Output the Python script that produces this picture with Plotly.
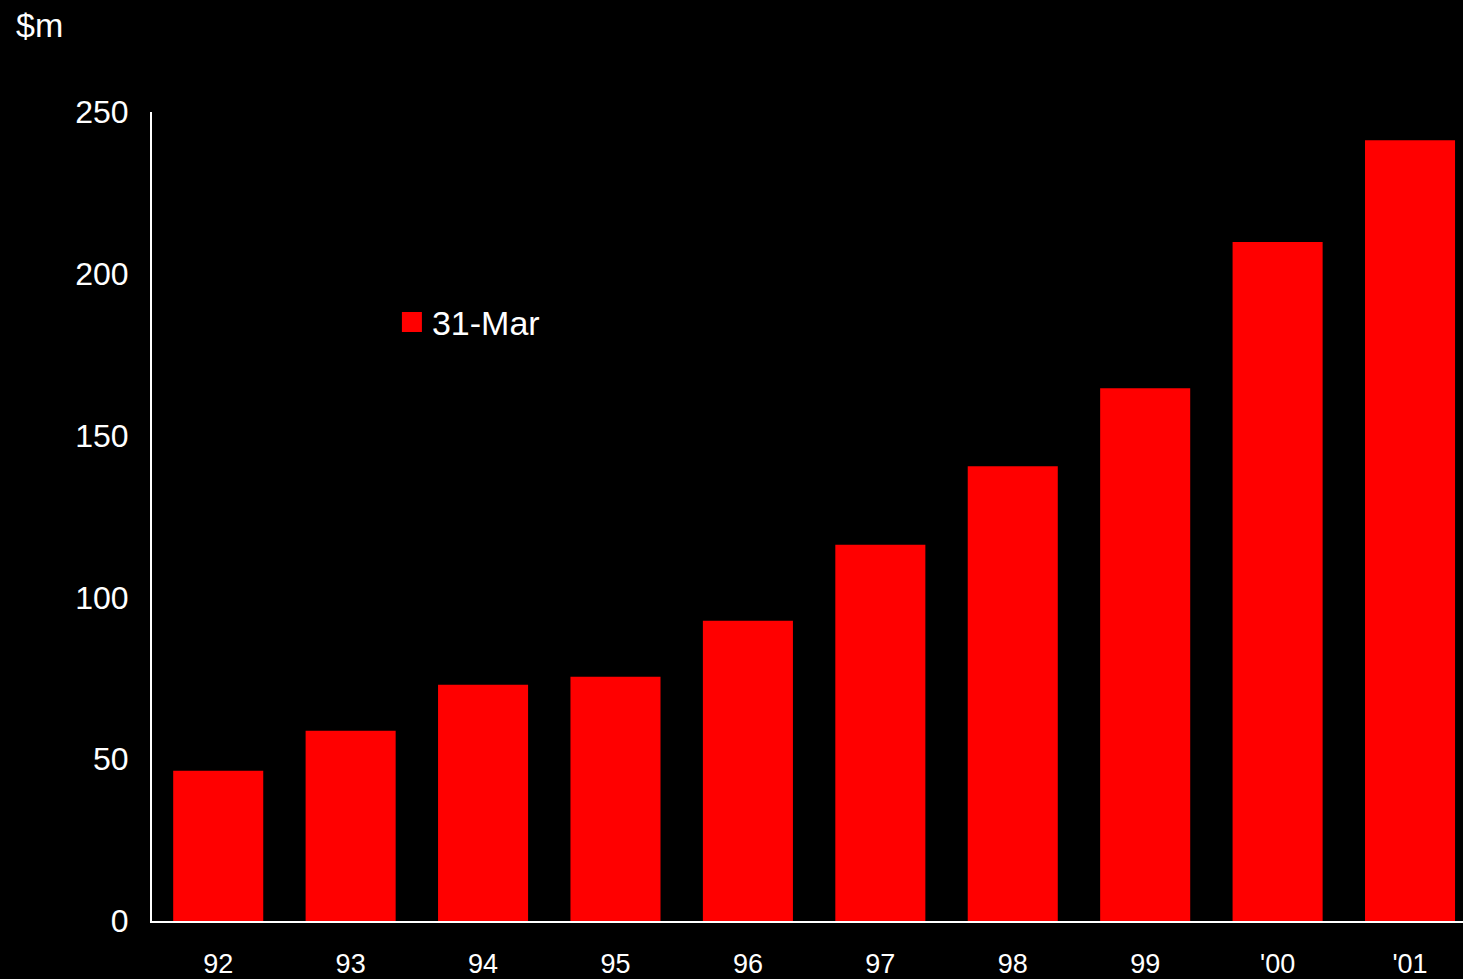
import plotly.graph_objects as go

categories = ["92", "93", "94", "95", "96", "97", "98", "99", "'00", "'01"]
values = [46.4, 58.8, 73.0, 75.5, 92.8, 116.3, 140.5, 164.6, 209.8, 241.3]
series_name = "31-Mar"
y_ticks = [0, 50, 100, 150, 200, 250]

bar_color = "#FF0000"
font_family = "Liberation Sans, Arial, sans-serif"

fig = go.Figure()
fig.add_trace(go.Bar(
    x=list(range(len(categories))),
    y=values,
    name=series_name,
    legendgroup="s",
    marker=dict(color=bar_color, line=dict(width=0)),
    showlegend=False,
))
# legend entry with a larger square swatch
fig.add_trace(go.Scatter(
    x=[None], y=[None],
    mode="markers",
    name=series_name,
    legendgroup="s",
    marker=dict(symbol="square", size=16, color=bar_color,
                line=dict(color=bar_color, width=4)),
    showlegend=True,
))

fig.update_layout(
    width=1463,
    height=979,
    paper_bgcolor="black",
    plot_bgcolor="black",
    margin=dict(l=152, r=0, t=112, b=58, pad=0, autoexpand=False),
    bargap=0.32,
    font=dict(family=font_family, color="white", size=28),
    showlegend=True,
    legend=dict(
        x=0.183, y=0.74, xanchor="left", yanchor="middle",
        bgcolor="rgba(0,0,0,0)",
        font=dict(size=34, color="white", family=font_family),
        itemwidth=30,
    ),
    xaxis=dict(
        range=[-0.5, 9.4],
        tickmode="array",
        tickvals=list(range(len(categories))),
        ticktext=categories,
        showgrid=False,
        zeroline=False,
        showline=True,
        linecolor="white",
        linewidth=2,
        ticks="",
        automargin=False,
        ticklabelstandoff=18,
        tickfont=dict(size=27, color="white"),
    ),
    yaxis=dict(
        range=[0, 250],
        tickmode="array",
        tickvals=y_ticks,
        showgrid=False,
        zeroline=False,
        showline=True,
        linecolor="white",
        linewidth=2,
        ticks="",
        automargin=False,
        ticklabelstandoff=15,
        tickfont=dict(size=32, color="white"),
    ),
    annotations=[dict(
        text="$m", xref="paper", yref="paper",
        x=-0.105, y=1.1075, xanchor="left", yanchor="middle",
        showarrow=False, font=dict(size=34, color="white", family=font_family),
    )],
)

fig.write_html(
    "out.html",
    config={"displayModeBar": False},
    post_script="document.body.style.margin='0';document.body.style.background='black';",
)
